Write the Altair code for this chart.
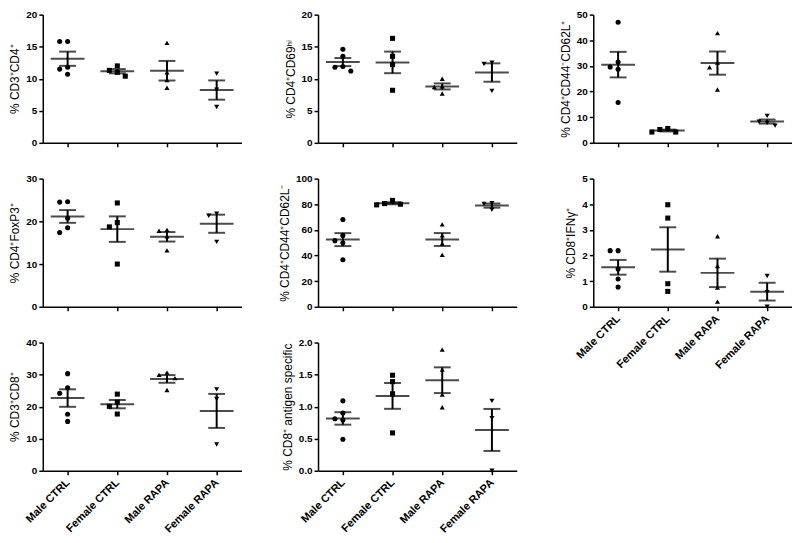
import altair as alt
import pandas as pd

groups = ["Male CTRL", "Female CTRL", "Male RAPA", "Female RAPA"]
shapes = ["circle", "square", "triangle-up", "triangle-down"]

# values per group: Male CTRL, Female CTRL, Male RAPA, Female RAPA
cd3_cd4 = [[15.8, 15.8, 11.8, 11.5, 10.7], [12.0, 11.3, 11.0, 10.4], [15.6, 11.0, 9.8, 8.6], [10.8, 8.3, 5.6]]
cd4_cd69 = [[14.6, 13.5, 11.9, 11.8, 11.2], [16.3, 13.5, 12.2, 8.2], [10.0, 8.8, 8.7, 7.7], [12.5, 12.3, 8.1]]
naive = [[47.0, 31.5, 29.6, 28.7, 15.7], [5.6, 5.2, 4.2, 4.2], [42.8, 31.3, 29.5, 20.8], [10.5, 8.2, 7.8, 6.7]]
foxp3 = [[24.6, 24.5, 20.7, 18.5, 17.4], [24.3, 19.7, 18.7, 10.0], [18.0, 17.8, 16.5, 13.2], [21.8, 21.3, 15.2]]
effector = [[68.1, 55.7, 51.6, 49.9, 36.7], [83.0, 80.5, 80.0, 79.5], [64.3, 55.7, 49.4, 40.5], [80.8, 80.3, 75.7]]
ifng = [[2.19, 2.19, 1.47, 1.08, 0.77], [3.98, 3.46, 0.90, 0.60], [2.75, 1.59, 0.75, 0.20], [1.20, 0.57, 0.00]]
cd3_cd8 = [[30.3, 25.9, 24.2, 17.6, 15.4], [23.9, 21.4, 20.1, 17.7], [30.6, 29.9, 28.9, 25.2], [25.4, 22.4, 8.2]]
antigen = [[1.09, 0.90, 0.81, 0.79, 0.49], [1.49, 1.39, 1.20, 0.59], [1.89, 1.58, 1.19, 0.99], [1.09, 0.82, 0.00]]

titles = [
    "% CD3⁺CD4⁺", "% CD4⁺CD69ʰⁱ", "% CD4⁺CD44⁻CD62L⁺",
    "% CD4⁺FoxP3⁺", "% CD4⁺CD44⁺CD62L⁻", "% CD8⁺IFNγ⁺",
    "% CD3⁺CD8⁺", "% CD8⁺ antigen specific",
]
y_max = [20, 20, 50, 30, 100, 5, 40, 2.0]
y_step = [5, 5, 10, 10, 20, 1, 10, 0.5]
y_fmt = ["d", "d", "d", "d", "d", "d", "d", ".1f"]
show_x_labels = [False, False, False, False, False, True, True, True]
datasets = [cd3_cd4, cd4_cd69, naive, foxp3, effector, ifng, cd3_cd8, antigen]

W, H = 200, 129


def spread(values, ymax):
    px_y = H / ymax
    px_x = W / 4
    placed, offs = [], []
    for v in values:
        chosen = 0
        for c in [0, -8, 8, -16, 16]:
            if all(not (abs(c - pc) < 7 and abs((v - pv) * px_y) < 6) for pc, pv in placed):
                chosen = c
                break
        placed.append((chosen, v))
        offs.append(chosen / px_x)
    return offs


label_expr = "[" + ",".join("'%s'" % g for g in groups) + "][datum.value]"


def panel(vals, title, ymax, step, fmt, show_labels):
    rows, stats = [], []
    for gi, vs in enumerate(vals):
        for v, o in zip(vs, spread(vs, ymax)):
            rows.append({"pos": gi + o, "value": v, "shape": shapes[gi]})
        s = pd.Series(vs)
        m = s.mean()
        se = s.std(ddof=1) / (len(vs) ** 0.5)
        stats.append({"gi": gi, "mean": m, "lo": m - se, "hi": m + se})
    df = pd.DataFrame(rows)
    st = pd.DataFrame(stats)
    n = int(round(ymax / step))
    yvals = [round(i * step, 3) for i in range(n + 1)]
    xs = alt.Scale(domain=[-0.5, 3.5], nice=False, zero=False)
    ys = alt.Scale(domain=[0, ymax], nice=False, zero=True)
    xaxis = alt.Axis(values=[0, 1, 2, 3], labels=show_labels, labelExpr=label_expr,
                     labelAngle=-45, labelAlign="right", labelBaseline="middle",
                     labelOverlap=False, labelBound=False,
                     labelFontSize=11, labelPadding=6, title=None)
    yaxis = alt.Axis(values=yvals, format=fmt, title=title, labelOverlap=False)

    def X(f):
        return alt.X(f, scale=xs, axis=xaxis)

    def Y(f):
        return alt.Y(f, scale=ys, axis=yaxis)

    pts = alt.Chart(df).mark_point(filled=True, size=26, opacity=1, color="black").encode(
        x=X("pos:Q"), y=Y("value:Q"),
        shape=alt.Shape("shape:N", scale=None, legend=None),
    )
    base = alt.Chart(st)
    mean_t = base.mark_tick(orient="horizontal", size=34, thickness=2, color="black").encode(
        x=X("gi:Q"), y=Y("mean:Q"))
    lo_t = base.mark_tick(orient="horizontal", size=17, thickness=2, color="black").encode(
        x=X("gi:Q"), y=Y("lo:Q"))
    hi_t = base.mark_tick(orient="horizontal", size=17, thickness=2, color="black").encode(
        x=X("gi:Q"), y=Y("hi:Q"))
    vr = base.mark_rule(strokeWidth=2, color="black").encode(
        x=X("gi:Q"), y=Y("lo:Q"), y2="hi:Q")
    return alt.layer(pts, vr, mean_t, lo_t, hi_t).properties(width=W, height=H)


panels = [panel(d, t, m, s, f, l) for d, t, m, s, f, l in
          zip(datasets, titles, y_max, y_step, y_fmt, show_x_labels)]

chart = alt.concat(*panels, columns=3, spacing={"row": 36, "column": 77}, bounds="flush").properties(
    padding=0
).configure_view(stroke=None).configure_axis(
    grid=False, domainColor="black", domainWidth=1.5, tickColor="black", tickWidth=1.5,
    tickSize=4, labelFont="Liberation Sans", labelFontWeight="bold", labelFontSize=10,
    labelColor="black", labelPadding=2, titleFont="Liberation Sans", titleFontWeight="normal",
    titleFontSize=12, titleColor="black", titlePadding=4,
)

chart.save("out.html", embed_options={"renderer": "svg", "actions": False})
